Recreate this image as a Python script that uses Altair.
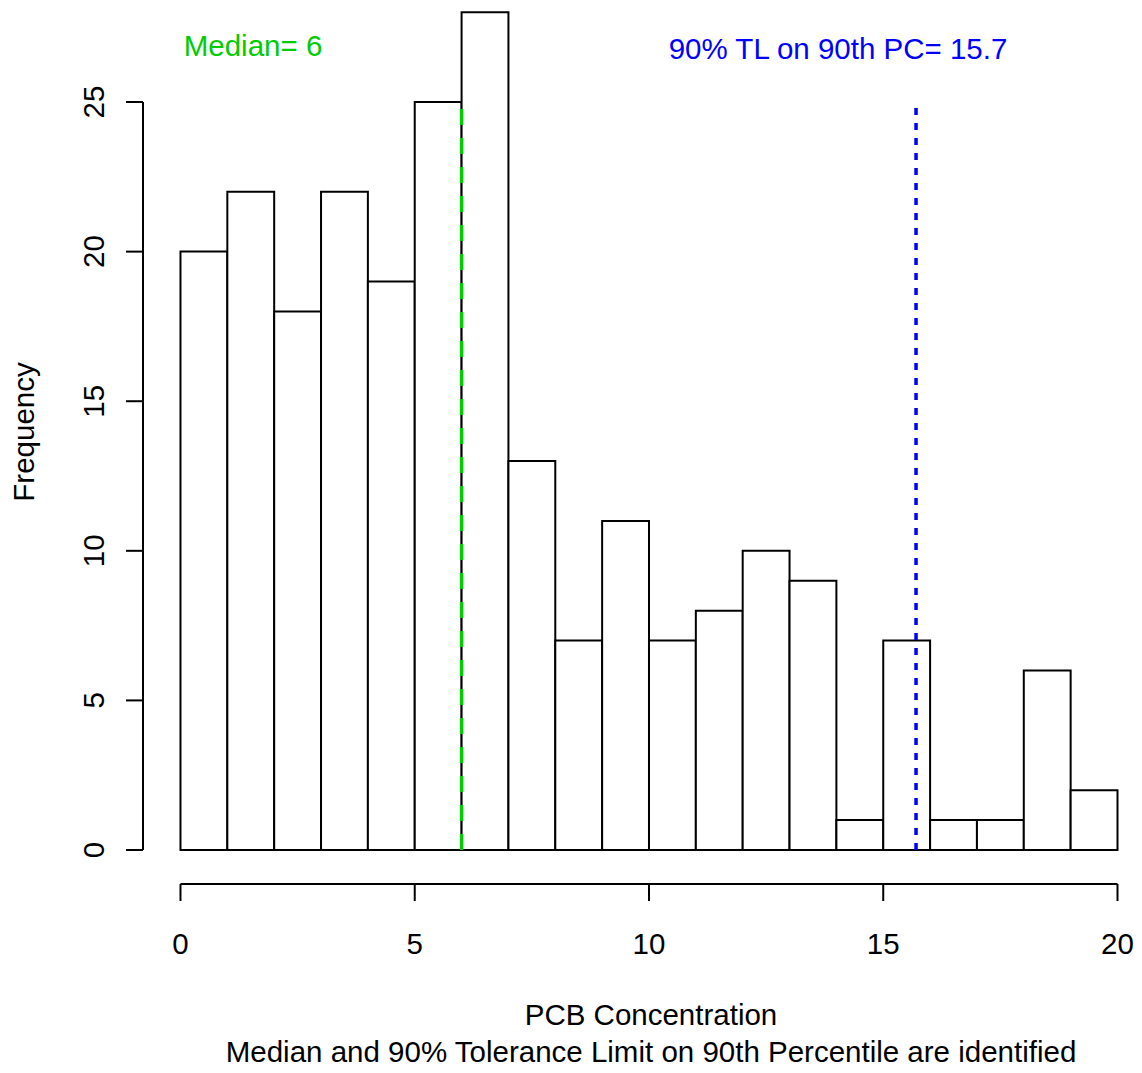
import altair as alt
import pandas as pd

# ---- data ----
bin_lo = list(range(0, 20))
bin_hi = list(range(1, 21))
counts = [20, 22, 18, 22, 19, 25, 28, 13, 7, 11, 7, 8, 10, 9, 1, 7, 1, 1, 6, 2]
median_val = 6
tl_val = 15.7
ref_top = 25
x_ticks = [0, 5, 10, 15, 20]
y_ticks = [0, 5, 10, 15, 20, 25]
median_label = "Median= 6"
tl_label = "90% TL on 90th PC= 15.7"
x_title = "PCB Concentration"
x_subtitle = "Median and 90% Tolerance Limit on 90th Percentile are identified"
y_title = "Frequency"

FONT = "Liberation Sans"
FS = 29.5

bars_df = pd.DataFrame({"lo": bin_lo, "hi": bin_hi, "count": counts})
xt_df = pd.DataFrame({"v": x_ticks})
yt_df = pd.DataFrame({"v": y_ticks})
med_df = pd.DataFrame({"x": [median_val], "y0": [0], "y1": [ref_top]})
tl_df = pd.DataFrame({"x": [tl_val], "y0": [0], "y1": [ref_top]})

xs = alt.Scale(domain=[-0.8, 20.523], nice=False, zero=False)
ys = alt.Scale(domain=[-1.136, 28.41], nice=False, zero=False)

bars = alt.Chart(bars_df).mark_rect(fill="white", stroke="black", strokeWidth=2).encode(
    x=alt.X("lo:Q", scale=xs, axis=None),
    x2="hi:Q",
    y=alt.Y("count:Q", scale=ys, axis=None),
    y2=alt.datum(0),
)

# y axis
yaxis_line = alt.Chart(pd.DataFrame({"a": [0], "b": [max(y_ticks)]})).mark_rule(
    color="black", strokeWidth=2).encode(
    x=alt.value(0), y=alt.Y("a:Q", scale=ys), y2="b:Q")
ytick_rules = alt.Chart(yt_df).mark_rule(color="black", strokeWidth=2).encode(
    x=alt.value(-17), x2=alt.value(0), y=alt.Y("v:Q", scale=ys))
ytick_labels = alt.Chart(yt_df).mark_text(
    font=FONT, fontSize=FS, angle=270, align="center", baseline="middle", color="black").encode(
    x=alt.value(-48), y=alt.Y("v:Q", scale=ys), text="v:Q")

# x axis
xaxis_line = alt.Chart(pd.DataFrame({"a": [min(x_ticks)], "b": [max(x_ticks)]})).mark_rule(
    color="black", strokeWidth=2).encode(
    x=alt.X("a:Q", scale=xs), x2="b:Q", y=alt.value(884))
xtick_rules = alt.Chart(xt_df).mark_rule(color="black", strokeWidth=2).encode(
    x=alt.X("v:Q", scale=xs), y=alt.value(884), y2=alt.value(901))
xtick_labels = alt.Chart(xt_df).mark_text(
    font=FONT, fontSize=FS, align="center", baseline="middle", color="black").encode(
    x=alt.X("v:Q", scale=xs), y=alt.value(945), text="v:Q")

# reference lines
med_line = alt.Chart(med_df).mark_rule(color="#00CC00", strokeWidth=3.5, strokeDash=[16, 13]).encode(
    x=alt.X("x:Q", scale=xs), y=alt.Y("y0:Q", scale=ys), y2="y1:Q")
tl_line = alt.Chart(tl_df).mark_rule(color="#0000FF", strokeWidth=3.5, strokeDash=[7, 8]).encode(
    x=alt.X("x:Q", scale=xs), y=alt.Y("y0:Q", scale=ys), y2="y1:Q")

# texts
def txt(s, x, y, color="black", angle=0):
    kw = dict(font=FONT, fontSize=FS, align="center", baseline="middle", color=color, text=s)
    if angle:
        kw["angle"] = angle
    return alt.Chart(pd.DataFrame({"t": [s]})).mark_text(**kw).encode(
        x=alt.value(x), y=alt.value(y))

med_txt = txt(median_label, 110, 47, "#00CC00")
tl_txt = txt(tl_label, 695, 50, "#0000FF")
xt = txt(x_title, 508, 1016)
xst = txt(x_subtitle, 508, 1053)
yt = txt(y_title, -118, 432, angle=270)

chart = alt.layer(
    bars, med_line, tl_line,
    yaxis_line, ytick_rules, ytick_labels,
    xaxis_line, xtick_rules, xtick_labels,
    med_txt, tl_txt, xt, xst, yt,
).properties(
    width=999, height=884,
    autosize=alt.AutoSizeParams(type="none"),
    padding={"left": 143, "top": 0, "right": 0, "bottom": 189},
    background="white",
).configure_view(stroke=None)

chart.save("out.html", embed_options={"renderer": "svg", "actions": False})
